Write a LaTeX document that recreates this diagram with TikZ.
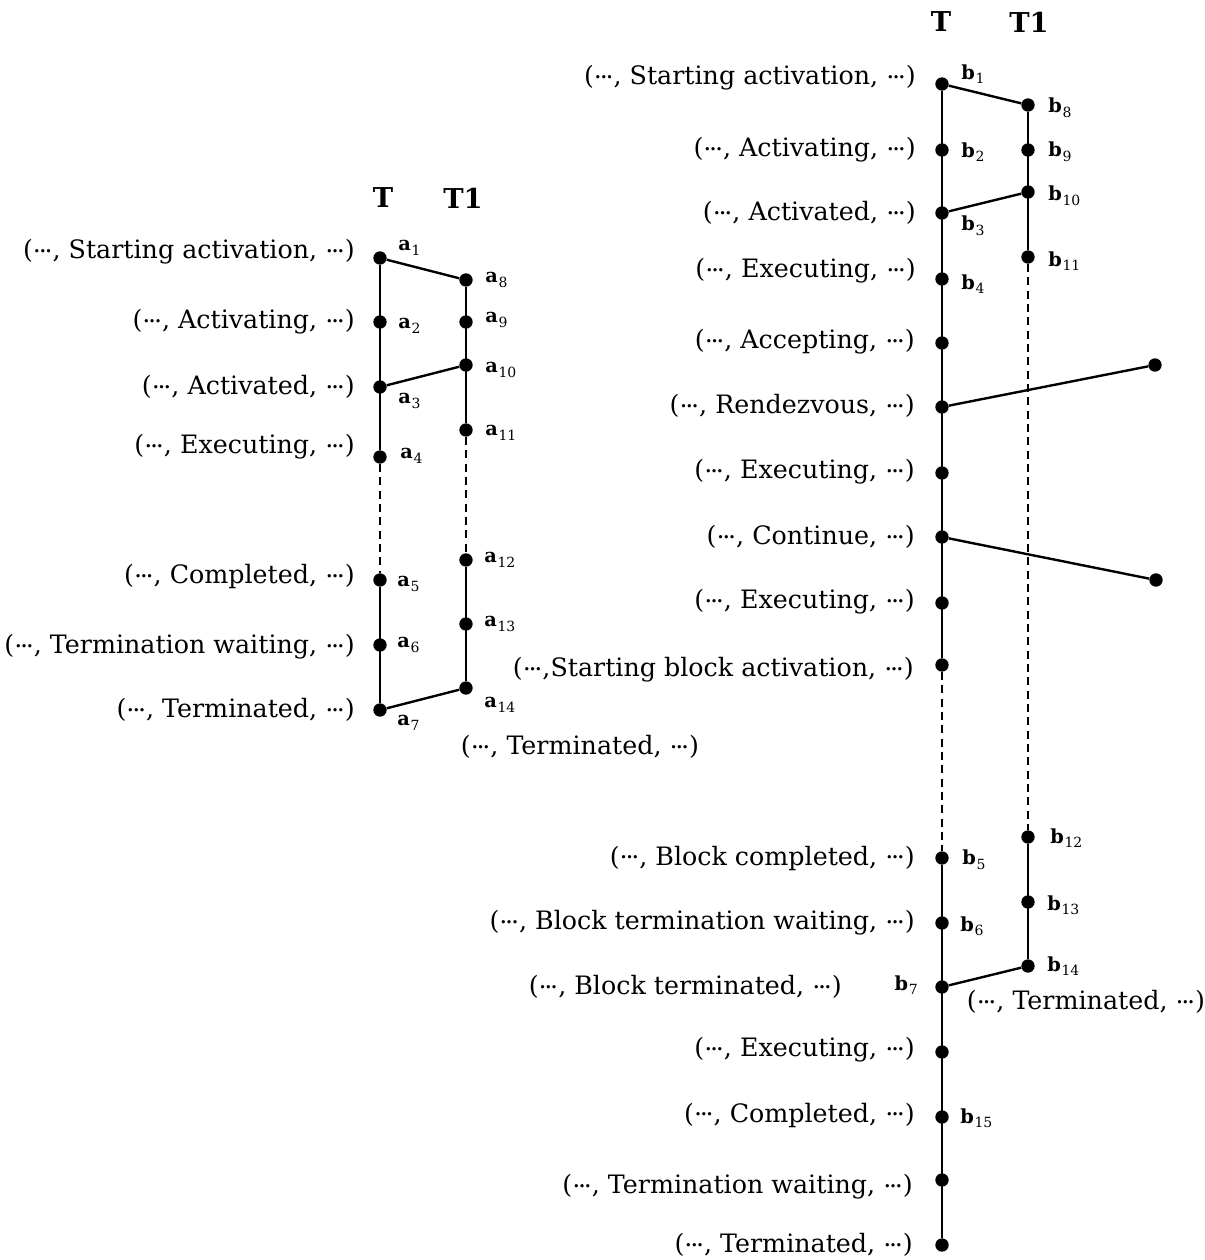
\documentclass[tikz,border=0pt]{standalone}
\usepackage{fontspec}
\setmainfont{DejaVu Serif}
\newcommand\dts{\raisebox{0.24em}{.\kern-0.09em.\kern-0.09em.}}
\newcommand\lbl[2]{{\bfseries #1}\kern0.04em\raisebox{-0.45ex}{\fontsize{10.5}{12}\selectfont #2}}
\tikzset{
 dot/.style={circle,fill=black,inner sep=0pt,minimum size=10pt},
 ln/.style={line width=1.8pt},
 dsh/.style={line width=1.5pt,dash pattern=on 6pt off 4pt},
 st/.style={anchor=east,inner sep=0pt,font=\fontsize{19}{23}\selectfont},
 stc/.style={inner sep=0pt,font=\fontsize{19}{23}\selectfont},
 lb/.style={anchor=west,inner sep=0pt,font=\fontsize{14.5}{17}\selectfont},
 lbe/.style={anchor=east,inner sep=0pt,font=\fontsize{14.5}{17}\selectfont},
 hd/.style={inner sep=0pt,font=\fontsize{20.5}{24}\selectfont\bfseries},
}
\begin{document}
\begin{tikzpicture}[x=0.75pt,y=-0.75pt]
\useasboundingbox (0,0) rectangle (1205,1260);
% ---------------- left diagram ----------------
\node[hd] (hT) at (383,198) {T};
\node[hd] (hT1) at (463,198) {T1};
\node[dot] (a1) at (380,258) {};
\node[dot] (a2) at (380,322) {};
\node[dot] (a3) at (380,387) {};
\node[dot] (a4) at (380,457) {};
\node[dot] (a5) at (380,580) {};
\node[dot] (a6) at (380,645) {};
\node[dot] (a7) at (380,710) {};
\node[dot] (a8) at (466,280) {};
\node[dot] (a9) at (466,322) {};
\node[dot] (a10) at (466,365) {};
\node[dot] (a11) at (466,430) {};
\node[dot] (a12) at (466,560) {};
\node[dot] (a13) at (466,624) {};
\node[dot] (a14) at (466,688) {};
\draw[ln] (a1) -- (a4);
\draw[dsh] (a4) -- (a5);
\draw[ln] (a5) -- (a7);
\draw[ln] (a8) -- (a11);
\draw[dsh] (a11) -- (a12);
\draw[ln] (a12) -- (a14);
\draw[ln] (a1) -- (a8);
\draw[ln] (a3) -- (a10);
\draw[ln] (a7) -- (a14);
\node[lb] (la1) at (398,248) {\lbl{a}{1}};
\node[lb] (la2) at (398,326) {\lbl{a}{2}};
\node[lb] (la3) at (398,401) {\lbl{a}{3}};
\node[lb] (la4) at (400,456) {\lbl{a}{4}};
\node[lb] (la5) at (397,584) {\lbl{a}{5}};
\node[lb] (la6) at (397,645) {\lbl{a}{6}};
\node[lb] (la7) at (397,723) {\lbl{a}{7}};
\node[lb] (la8) at (485,280) {\lbl{a}{8}};
\node[lb] (la9) at (485,320) {\lbl{a}{9}};
\node[lb] (la10) at (485,370) {\lbl{a}{10}};
\node[lb] (la11) at (485,433) {\lbl{a}{11}};
\node[lb] (la12) at (484,560) {\lbl{a}{12}};
\node[lb] (la13) at (484,624) {\lbl{a}{13}};
\node[lb] (la14) at (484,705) {\lbl{a}{14}};
\node[st] (sa1) at (355,252) {(\dts, Starting activation, \dts)};
\node[st] (sa2) at (355,322) {(\dts, Activating, \dts)};
\node[st] (sa3) at (355,387) {(\dts, Activated, \dts)};
\node[st] (sa4) at (355,447) {(\dts, Executing, \dts)};
\node[st] (sa5) at (355,577) {(\dts, Completed, \dts)};
\node[st] (sa6) at (355,647) {(\dts, Termination waiting, \dts)};
\node[st] (sa7) at (355,710) {(\dts, Terminated, \dts)};
\node[stc] (sa14) at (580,747) {(\dts, Terminated, \dts)};
% ---------------- right diagram ----------------
\node[hd] (hTb) at (941,22) {T};
\node[hd] (hT1b) at (1029,22) {T1};
\node[dot] (b1) at (942,84) {};
\node[dot] (b2) at (942,150) {};
\node[dot] (b3) at (942,213) {};
\node[dot] (b4) at (942,279) {};
\node[dot] (tacc) at (942,343) {};
\node[dot] (trdv) at (942,407) {};
\node[dot] (texa) at (942,473) {};
\node[dot] (tcon) at (942,537) {};
\node[dot] (texb) at (942,603) {};
\node[dot] (tsba) at (942,665) {};
\node[dot] (b5) at (942,858) {};
\node[dot] (b6) at (942,923) {};
\node[dot] (b7) at (942,987) {};
\node[dot] (texc) at (942,1052) {};
\node[dot] (b15) at (942,1117) {};
\node[dot] (ttw) at (942,1180) {};
\node[dot] (tterm) at (942,1245) {};
\node[dot] (b8) at (1028,105) {};
\node[dot] (b9) at (1028,150) {};
\node[dot] (b10) at (1028,192) {};
\node[dot] (b11) at (1028,257) {};
\node[dot] (b12) at (1028,837) {};
\node[dot] (b13) at (1028,902) {};
\node[dot] (b14) at (1028,966) {};
\node[dot] (r1) at (1155,365) {};
\node[dot] (r2) at (1156,580) {};
\draw[ln] (b1) -- (tsba);
\draw[dsh] (tsba) -- (b5);
\draw[ln] (b5) -- (tterm);
\draw[ln] (b8) -- (b11);
\draw[dsh] (b11) -- (b12);
\draw[ln] (b12) -- (b14);
\draw[ln] (b1) -- (b8);
\draw[ln] (b3) -- (b10);
\draw[ln] (b7) -- (b14);
\draw[ln] (trdv) -- (r1);
\draw[ln] (tcon) -- (r2);
\node[lb] (lb1) at (961,74) {\lbl{b}{1}};
\node[lb] (lb2) at (961,152) {\lbl{b}{2}};
\node[lb] (lb3) at (961,226) {\lbl{b}{3}};
\node[lb] (lb4) at (961,284) {\lbl{b}{4}};
\node[lb] (lb8) at (1048,108) {\lbl{b}{8}};
\node[lb] (lb9) at (1048,152) {\lbl{b}{9}};
\node[lb] (lb10) at (1048,196) {\lbl{b}{10}};
\node[lb] (lb11) at (1048,261) {\lbl{b}{11}};
\node[lb] (lb12) at (1050,838) {\lbl{b}{12}};
\node[lb] (lb13) at (1047,905) {\lbl{b}{13}};
\node[lb] (lb14) at (1047,966) {\lbl{b}{14}};
\node[lb] (lb5) at (962,860) {\lbl{b}{5}};
\node[lb] (lb6) at (960,926) {\lbl{b}{6}};
\node[lbe] (lb7) at (918,985) {\lbl{b}{7}};
\node[lb] (lb15) at (960,1118) {\lbl{b}{15}};
\node[st] (sb1) at (916,78) {(\dts, Starting activation, \dts)};
\node[st] (sb2) at (916,150) {(\dts, Activating, \dts)};
\node[st] (sb3) at (916,213) {(\dts, Activated, \dts)};
\node[st] (sb4) at (916,271) {(\dts, Executing, \dts)};
\node[st] (sb5) at (915,342) {(\dts, Accepting, \dts)};
\node[st] (sb6) at (915,406) {(\dts, Rendezvous, \dts)};
\node[st] (sb7) at (915,472) {(\dts, Executing, \dts)};
\node[st] (sb8) at (915,537) {(\dts, Continue, \dts)};
\node[st] (sb9) at (915,602) {(\dts, Executing, \dts)};
\node[st] (sb10) at (914,670) {(\dts,Starting block activation, \dts)};
\node[st] (sb11) at (915,858) {(\dts, Block completed, \dts)};
\node[st] (sb12) at (915,923) {(\dts, Block termination waiting, \dts)};
\node[st] (sb13) at (842,987) {(\dts, Block terminated, \dts)};
\node[st] (sb14) at (915,1050) {(\dts, Executing, \dts)};
\node[st] (sb15) at (915,1115) {(\dts, Completed, \dts)};
\node[st] (sb16) at (913,1187) {(\dts, Termination waiting, \dts)};
\node[st] (sb17) at (913,1245) {(\dts, Terminated, \dts)};
\node[stc] (sb18) at (1086,1002) {(\dts, Terminated, \dts)};
\end{tikzpicture}
\end{document}
